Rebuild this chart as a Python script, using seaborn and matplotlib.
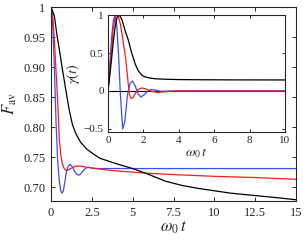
import numpy as np
import pandas as pd
import seaborn as sns
import matplotlib
matplotlib.use("Agg")
import matplotlib.pyplot as plt

# main panel: average fidelity vs w0 t
t_blue = [0, 0.1, 0.2, 0.3, 0.4, 0.5, 0.6, 0.67, 0.75, 0.85, 0.95, 1.05, 1.17, 1.3,
          1.45, 1.6, 1.72, 1.85, 2.0, 2.15, 2.3, 2.5, 2.8, 3.2, 4, 6, 10, 15]
f_blue = [1.0, 0.97, 0.90, 0.81, 0.745, 0.71, 0.693, 0.690, 0.694, 0.710, 0.727, 0.735,
          0.738, 0.734, 0.726, 0.721, 0.720, 0.723, 0.729, 0.732, 0.733, 0.732, 0.731,
          0.731, 0.731, 0.731, 0.731, 0.731]

t_red = [0, 0.1, 0.2, 0.3, 0.4, 0.5, 0.6, 0.7, 0.8, 0.9, 1.0, 1.2, 1.5, 1.8, 2.2, 3,
         4, 5, 6, 7.5, 10, 12.5, 15]
f_red = [1.0, 0.985, 0.945, 0.895, 0.845, 0.78, 0.752, 0.738, 0.731, 0.728, 0.728,
         0.731, 0.735, 0.735, 0.733, 0.730, 0.727, 0.725, 0.723, 0.721, 0.718, 0.716, 0.713]

t_black = [0, 0.2, 0.35, 0.5, 0.7, 0.9, 1.1, 1.3, 1.5, 1.8, 2.2, 2.6, 3.0, 4, 5, 6,
           7, 8, 9, 10, 11, 12.5, 14, 15]
f_black = [1.0, 0.985, 0.955, 0.93, 0.895, 0.862, 0.83, 0.805, 0.79, 0.775, 0.763,
           0.755, 0.748, 0.739, 0.731, 0.721, 0.71, 0.703, 0.698, 0.694, 0.69, 0.686,
           0.682, 0.679]

# inset: gamma(t)
tg_blue = [0, 0.1, 0.2, 0.3, 0.4, 0.5, 0.6, 0.7, 0.83, 0.95, 1.1, 1.25, 1.39, 1.55,
           1.7, 1.86, 2.05, 2.25, 2.45, 2.7, 3.0, 3.5, 4, 10]
g_blue = [0, 0.35, 0.7, 0.93, 1.0, 0.85, 0.45, -0.05, -0.50, -0.40, -0.05, 0.10, 0.13,
          0.06, -0.04, -0.08, -0.05, 0.0, 0.02, 0.01, -0.005, 0.0, 0.0, 0.0]

tg_red = [0, 0.1, 0.2, 0.3, 0.4, 0.5, 0.6, 0.7, 0.8, 0.9, 1.0, 1.1, 1.2, 1.3, 1.4,
          1.55, 1.7, 1.9, 2.1, 2.4, 2.8, 3.2, 3.8, 10]
g_red = [0, 0.25, 0.55, 0.82, 0.97, 1.0, 0.97, 0.88, 0.74, 0.58, 0.42, 0.2, -0.04,
         -0.10, -0.09, -0.03, 0.02, 0.04, 0.03, 0.0, -0.02, -0.01, 0.0, 0.0]

tg_black = [0, 0.1, 0.2, 0.3, 0.4, 0.5, 0.6, 0.7, 0.8, 0.9, 1.0, 1.15, 1.3, 1.53, 1.7,
            1.9, 2.1, 2.37, 2.7, 3.2, 4, 5, 7, 10]
g_black = [0, 0.2, 0.42, 0.65, 0.84, 0.96, 1.0, 0.98, 0.93, 0.85, 0.77, 0.67, 0.53,
           0.36, 0.27, 0.21, 0.185, 0.17, 0.16, 0.155, 0.15, 0.148, 0.146, 0.145]

BLUE = "#3b4cff"
RED = "#ff1a1a"
BLACK = "black"

sns.set_style("ticks")
plt.rcParams['font.family'] = ['Liberation Serif', 'DejaVu Serif']
plt.rcParams['mathtext.fontset'] = 'stix'
plt.rcParams['axes.linewidth'] = 0.8

fig = plt.figure(figsize=(3.06, 2.43), dpi=100)
ax = fig.add_axes([0.167, 0.173, 0.800, 0.798])
ins = fig.add_axes([0.353, 0.457, 0.578, 0.481])

main_sets = [(t_blue, f_blue, BLUE), (t_red, f_red, RED), (t_black, f_black, BLACK)]
for tt, ff, c in main_sets:
    df = pd.DataFrame({'t': tt, 'F': ff})
    sns.lineplot(data=df, x='t', y='F', ax=ax, color=c, lw=0.9, sort=False, estimator=None)

ax.set_xlim(0, 15)
ax.set_ylim(0.677, 1.0)
ax.set_xticks([0, 2.5, 5, 7.5, 10, 12.5, 15])
ax.set_xticklabels(["0", "2.5", "5", "7.5", "10", "12.5", "15"])
ax.set_yticks([0.70, 0.75, 0.80, 0.85, 0.90, 0.95, 1.0])
ax.set_yticklabels(["0.70", "0.75", "0.80", "0.85", "0.90", "0.95", "1"])
ax.tick_params(direction='in', top=True, right=True, length=3, width=0.7,
               labelsize=9, pad=4)
ax.set_xlabel(r"$\omega_0\, t$", fontsize=12, labelpad=1)
ax.set_ylabel(r"$F_{\rm av}$", fontsize=12, labelpad=3)

ins_sets = [(tg_blue, g_blue, BLUE), (tg_red, g_red, RED), (tg_black, g_black, BLACK)]
ins.axhline(0, color='black', lw=0.8)
for tt, gg, c in ins_sets:
    df = pd.DataFrame({'t': tt, 'g': gg})
    sns.lineplot(data=df, x='t', y='g', ax=ins, color=c, lw=0.9, sort=False, estimator=None)

ins.set_xlim(0, 10)
ins.set_ylim(-0.54, 1.0)
ins.set_xticks([0, 2, 4, 6, 8, 10])
ins.set_yticks([-0.5, 0, 0.5, 1])
ins.set_yticklabels(["\u22120.5", "0", "0.5", "1"])
ins.tick_params(direction='in', top=True, right=True, length=2.5, width=0.7,
                labelsize=8, pad=3)
ins.set_xlabel(r"$\omega_0\, t$", fontsize=10, labelpad=1)
ins.set_ylabel(r"$\gamma(t)$", fontsize=10, labelpad=1)

fig.savefig("out.png", dpi=100)
